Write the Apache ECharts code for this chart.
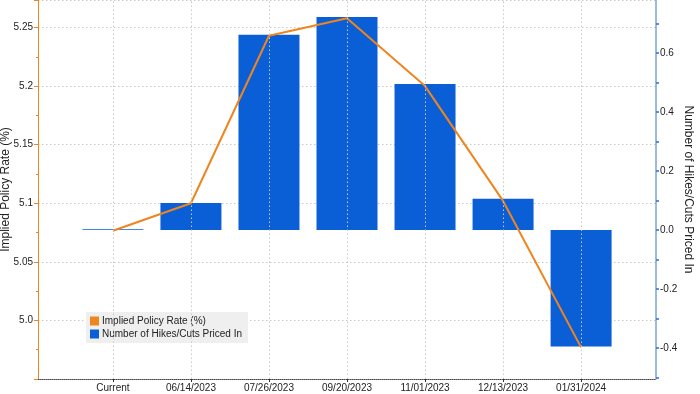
<!DOCTYPE html>
<html><head><meta charset="utf-8">
<script src="https://cdn.jsdelivr.net/npm/echarts@6/dist/echarts.min.js"></script>
<style>html,body{margin:0;padding:0;background:#fff}#c{width:700px;height:394px}</style>
</head><body><div id="c"></div>
<script>
var categories = ['Current','06/14/2023','07/26/2023','09/20/2023','11/01/2023','12/13/2023','01/31/2024'];
var impliedRate = [5.0765, 5.100, 5.243, 5.258, 5.200, 5.102, 4.977];
var hikesCuts = [0.003, 0.092, 0.662, 0.722, 0.495, 0.106, -0.395];
var leftTicks = [5.0, 5.05, 5.1, 5.15, 5.2, 5.25];
var rightTicks = [-0.4, -0.2, 0.0, 0.2, 0.4, 0.6];
var rightMinor = [-0.5, -0.3, -0.1, 0.1, 0.3, 0.5, 0.7];

var idx = categories.map(function(_, i){ return i; });
var font = 'Liberation Sans';
var chart = echarts.init(document.getElementById('c'), null, {renderer:'canvas'});
chart.setOption({
  animation: false,
  textStyle: {fontFamily: font},
  grid: {left: 38, right: 44, top: 0, bottom: 15, containLabel: false, outerBoundsMode: 'none'},
  legend: {
    orient: 'vertical', left: 86, top: 312,
    itemWidth: 9, itemHeight: 9, itemGap: 3,
    backgroundColor: '#efefef', padding: [4, 6, 4, 4],
    textStyle: {fontFamily: font, fontSize: 10, color: '#222', padding: [0,0,0,-2]},
    data: [{name: 'Implied Policy Rate (%)', icon: 'rect'}, {name: 'Number of Hikes/Cuts Priced In', icon: 'rect'}]
  },
  xAxis: {
    type: 'value', min: -0.96, max: 6.96,
    axisLine: {show: true, onZero: false, lineStyle: {color: '#444', type: 'dotted', width: 1}},
    axisTick: {show: true, customValues: idx, length: 3, lineStyle: {color: '#333'}},
    axisLabel: {customValues: idx, margin: 4, fontSize: 10, color: '#222', fontFamily: font,
      formatter: function(v){ return categories[Math.round(v)]; }},
    splitLine: {show: false}
  },
  yAxis: [{
    type: 'value', position: 'left', min: 4.95, max: 5.2735, interval: 0.05,
    name: 'Implied Policy Rate (%)', nameLocation: 'middle', nameGap: 26, nameRotate: 90, nameMoveOverlap: false,
    nameTextStyle: {fontFamily: font, fontSize: 12, color: '#222'},
    axisLine: {show: true, onZero: false, lineStyle: {color: '#f0841e', width: 1}},
    axisTick: {show: true, length: 4, inside: false, lineStyle: {color: '#f0841e'}},
    minorTick: {show: true, splitNumber: 2, length: 2, lineStyle: {color: '#f0841e'}},
    axisLabel: {fontSize: 10, color: '#222', margin: 5, fontFamily: font, showMaxLabel: false,
      formatter: function(v){
        var r = Math.round(v*1000)/1000;
        for (var i=0;i<leftTicks.length;i++){ if (Math.abs(leftTicks[i]-r) < 1e-6) return r === 5 ? '5.0' : String(r); }
        return '';
      }},
    splitLine: {show: true, lineStyle: {color: '#c8c8c8', type: [1.5, 2.5], width: 1}}
  }, {
    type: 'value', position: 'right', min: -0.505, max: 0.78,
    name: 'Number of Hikes/Cuts Priced In', nameLocation: 'middle', nameGap: 26, nameRotate: -90, nameMoveOverlap: false,
    nameTextStyle: {fontFamily: font, fontSize: 12, color: '#222'},
    axisLine: {show: true, onZero: false, lineStyle: {color: '#7ba3d6', width: 1.5}},
    axisTick: {show: true, length: 3, customValues: rightTicks.concat(rightMinor), lineStyle: {color: '#2a6fd0', width: 1.5}},
    axisLabel: {customValues: rightTicks, fontSize: 10, color: '#222', margin: 4, fontFamily: font,
      formatter: function(v){ return v.toFixed(1); }},
    splitLine: {show: false}
  }],
  series: [{
    name: 'Number of Hikes/Cuts Priced In', type: 'bar', yAxisIndex: 1, barWidth: 61,
    itemStyle: {color: '#0a5fd6'},
    data: idx.map(function(i){ return [i, hikesCuts[i]]; }),
    markLine: {
      silent: true, symbol: 'none', label: {show: false},
      lineStyle: {color: '#c8c8c8', type: [1.5, 2.5], width: 1},
      data: idx.map(function(i){ return {xAxis: i}; })
    },
    z: 2
  }, {
    name: 'Implied Policy Rate (%)', type: 'line', yAxisIndex: 0, showSymbol: false, symbol: 'none',
    lineStyle: {color: '#f0841e', width: 2}, itemStyle: {color: '#f0841e'},
    data: idx.map(function(i){ return [i, impliedRate[i]]; }),
    z: 3
  }]
});
</script></body></html>
